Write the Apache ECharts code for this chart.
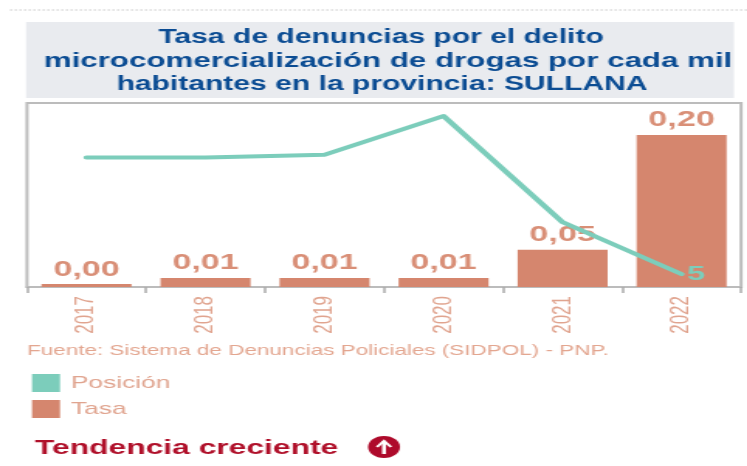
<!DOCTYPE html>
<html><head><meta charset="utf-8">
<style>
html,body{margin:0;padding:0;background:#fff;overflow:hidden}
#c{width:482px;height:466px;transform:scaleX(1.55);transform-origin:0 0;filter:blur(0.5px)}
</style>
<script src="https://cdn.jsdelivr.net/npm/echarts@6/dist/echarts.min.js"></script>
</head><body><div id="c"></div>
<script>
const categories = ['2017','2018','2019','2020','2021','2022'];
const tasa = [0.004,0.012,0.012,0.012,0.049,0.20];
const posicion = [50,50,51,66,25,5];
const titleLines = ['Tasa de denuncias por el delito','microcomercialización de drogas por cada mil','habitantes en la provincia: SULLANA'];
const sourceText = 'Fuente: Sistema de Denuncias Policiales (SIDPOL) - PNP.';
const trendText = 'Tendencia creciente';
const sx = x => x / 1.55;
const font = '"Liberation Sans", Arial, sans-serif';
const titleLeft = [381,388,382];
const titleSize = [19.4,20.2,19.4];
const chart = echarts.init(document.getElementById('c'), null, {renderer:'canvas'});
chart.setOption({
  animation:false,
  textStyle:{fontFamily:font},
  title:titleLines.map((t,i)=>({text:t,left:sx(titleLeft[i]),top:26+i*23.5,padding:0,textAlign:'center',
    textStyle:{color:'#0b4c93',fontSize:titleSize[i],fontWeight:'bold',lineHeight:24,fontFamily:font}})),
  grid:{left:sx(27),right:sx(6),top:103,height:184,show:true,borderColor:'#bcbcbc',borderWidth:2,backgroundColor:'#fff',containLabel:false},
  legend:{orient:'vertical',left:sx(32),top:374,padding:0,itemWidth:sx(28),itemHeight:18,itemGap:8,icon:'rect',
    textStyle:{color:'#e0a48f',fontSize:17,fontFamily:font,padding:[0,0,0,2]},
    data:['Posición','Tasa']},
  xAxis:{type:'category',data:categories,boundaryGap:true,
    axisLine:{lineStyle:{color:'#bcbcbc',width:2}},
    axisTick:{show:true,length:6,lineStyle:{color:'#aaaaaa',width:1.5}},
    axisLabel:{rotate:90,color:'#e0a48f',fontSize:17,margin:9,fontFamily:font}},
  yAxis:[
    {type:'value',min:0,max:0.242,show:false},
    {type:'value',min:0,max:71,show:false}
  ],
  series:[
    {name:'Posición',type:'line',yAxisIndex:1,data:posicion,symbol:'circle',symbolSize:1,showSymbol:true,showAllSymbol:true,z:5,
      lineStyle:{color:'#7ccdbb',width:4,cap:'round',join:'round'},itemStyle:{color:'#7ccdbb'},
      label:{show:true,position:'right',distance:3,color:'#7ccdbb',fontSize:21,fontWeight:'bold',
        formatter:p=>p.dataIndex===posicion.length-1?String(p.value):''}},
    {name:'Tasa',type:'bar',yAxisIndex:0,data:tasa,barWidth:sx(90),
      itemStyle:{color:'#d5866e'},
      label:{show:true,position:'top',distance:3.5,color:'#d98f77',fontSize:22,fontWeight:'bold',
        formatter:p=>p.value.toFixed(2).replace('.',',')}}
  ],
  graphic:[
    {type:'line',z:-1,shape:{x1:sx(10),y1:10,x2:sx(747),y2:10},style:{stroke:'#c8c8c8',lineWidth:1,lineDash:[1.5,1.5]}},
    {type:'rect',z:-1,shape:{x:sx(26),y:22,width:sx(708),height:76},style:{fill:'#e9ebef'}},
    {type:'text',left:sx(27),top:343,style:{text:sourceText,fill:'#e3a690',font:'14.5px '+font}},
    {type:'text',left:sx(35),top:438,style:{text:trendText,fill:'#b0102a',font:'bold 20.5px '+font}},
    {type:'group',left:sx(368),top:436,children:[
      {type:'ellipse',shape:{cx:sx(16),cy:11,rx:sx(16),ry:11},style:{fill:'#ae0a2b'}},
      {type:'polyline',shape:{points:[[sx(16),18],[sx(16),5]]},style:{stroke:'#fff',lineWidth:2.5,fill:null}},
      {type:'polyline',shape:{points:[[sx(9),11],[sx(16),5],[sx(23),11]]},style:{stroke:'#fff',lineWidth:2,fill:null}}
    ]}
  ]
});
</script></body></html>
